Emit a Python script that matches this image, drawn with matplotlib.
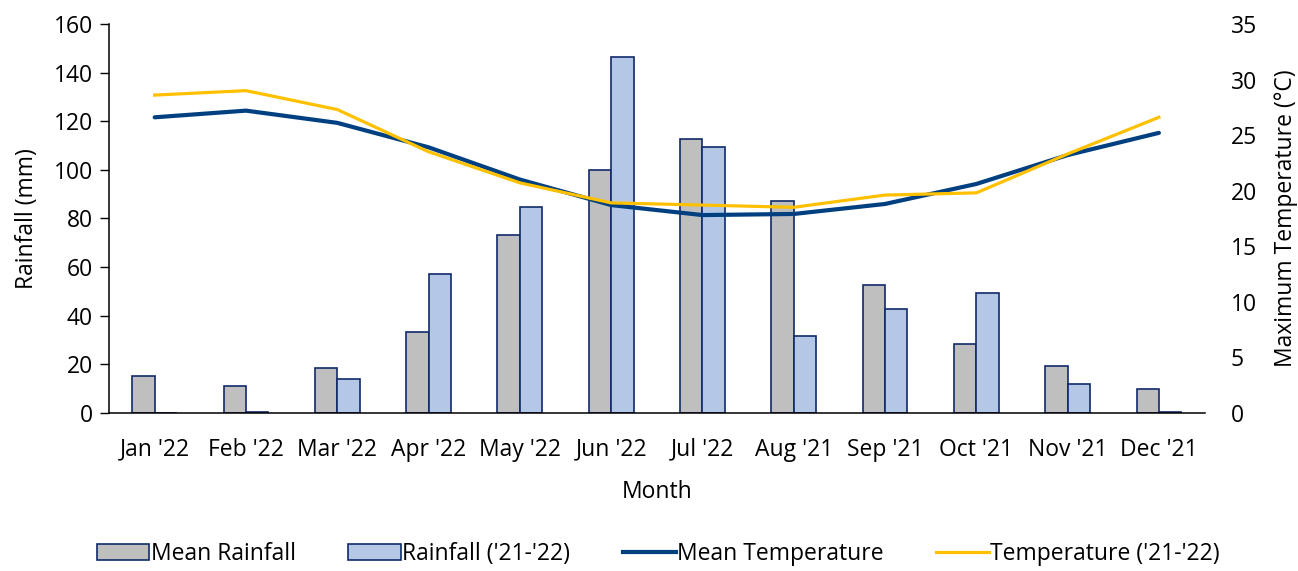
import numpy as np
import matplotlib.pyplot as plt
from matplotlib.patches import Patch
from matplotlib.lines import Line2D

months = ["Jan '22", "Feb '22", "Mar '22", "Apr '22", "May '22", "Jun '22",
          "Jul '22", "Aug '21", "Sep '21", "Oct '21", "Nov '21", "Dec '21"]

# rainfall (mm)
mean_rain = [15, 11.2, 18.4, 33.3, 73.2, 99.8, 112.5, 87, 52.4, 28.3, 19.3, 9.9]
rain_2122 = [0, 0.5, 13.9, 57.1, 84.5, 146.4, 109.5, 31.6, 42.8, 49.5, 11.7, 0.3]

# max temperature (deg C)
mean_temp = [26.6, 27.2, 26.1, 23.9, 21.0, 18.7, 17.8, 17.9, 18.8, 20.6, 23.2, 25.2]
temp_2122 = [28.6, 29.0, 27.3, 23.5, 20.7, 18.9, 18.7, 18.5, 19.6, 19.8, 23.3, 26.6]

plt.rcParams['font.family'] = ['Open Sans', 'DejaVu Sans']
fs = 16.5

grey = '#BFBFBF'
light_blue = '#B4C7E7'
edge = '#102A68'
navy = '#004080'
yellow = '#FFC000'

fig = plt.figure(figsize=(12.98, 5.71), dpi=100)
ax = fig.add_axes([0.084, 0.277, 0.844, 0.681])
ax2 = ax.twinx()

x = np.arange(len(months))
w = 0.245
ax.bar(x - w / 2, mean_rain, w, color=grey, edgecolor=edge, linewidth=1.2, zorder=2)
ax.bar(x + w / 2, rain_2122, w, color=light_blue, edgecolor=edge, linewidth=1.2, zorder=2)

ax2.plot(x, mean_temp, color=navy, linewidth=3.0, solid_capstyle='round')
ax2.plot(x, temp_2122, color=yellow, linewidth=2.3)

ax.set_xlim(-0.5, 11.5)
ax.set_ylim(0, 160)
ax.set_yticks(np.arange(0, 161, 20))
ax2.set_ylim(0, 35)
ax2.set_yticks(np.arange(0, 36, 5))

ax.set_xticks(x)
ax.set_xticklabels(months)
ax.tick_params(axis='x', length=0, labelsize=fs, pad=18)
ax.tick_params(axis='y', direction='out', length=6.5, width=1, labelsize=fs, pad=5)
ax2.tick_params(axis='y', length=0, labelsize=fs, pad=19)

for s in ['top', 'right']:
    ax.spines[s].set_visible(False)
for s in ['top', 'right', 'left', 'bottom']:
    ax2.spines[s].set_visible(False)
ax.spines['left'].set_linewidth(1.1)
ax.spines['bottom'].set_linewidth(1.1)

ax.set_ylabel('Rainfall (mm)', fontsize=fs, labelpad=11)
ax2.set_ylabel('Maximum Temperature (°C)', fontsize=fs, labelpad=12)
ax.set_xlabel('Month', fontsize=fs, labelpad=13)

handles = [
    Patch(facecolor=grey, edgecolor=edge, linewidth=1.2),
    Patch(facecolor=light_blue, edgecolor=edge, linewidth=1.2),
    Line2D([], [], color=navy, linewidth=3.0),
    Line2D([], [], color=yellow, linewidth=2.3),
]
labels = ['Mean Rainfall', "Rainfall ('21-'22)", 'Mean Temperature', "Temperature ('21-'22)"]
fig.legend(handles, labels, loc='lower center', bbox_to_anchor=(0.507, -0.028), ncol=4,
           frameon=False, fontsize=fs, handlelength=2.3, handletextpad=0.05,
           columnspacing=2.3)

fig.savefig('out.png', dpi=100)
